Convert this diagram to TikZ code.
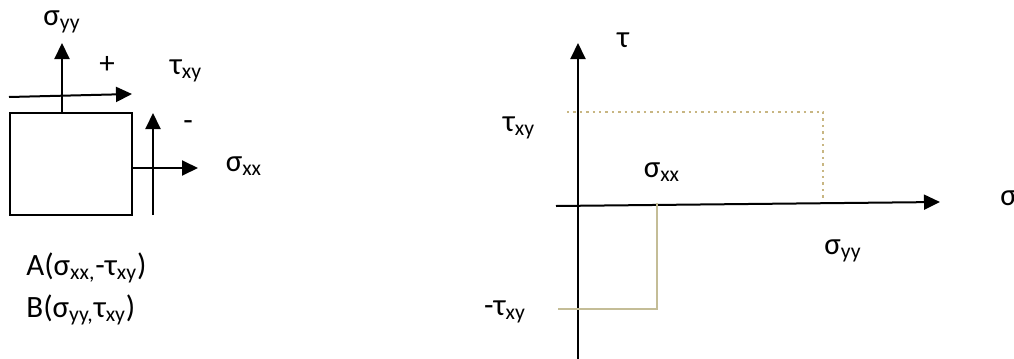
\documentclass[tikz,border=0pt]{standalone}
\usepackage{fontspec}
\setmainfont{Carlito}
\usetikzlibrary{arrows.meta,positioning}
\definecolor{stresstan}{RGB}{196,189,151}
\definecolor{stressgold}{RGB}{200,182,130}
\newcommand{\stresssub}[2]{#1\textsubscript{#2}}
\tikzset{
  stressarrow/.style={
    -{Triangle[length=8pt,width=7.5pt]},
    line width=1pt,
    draw=black
  },
  stressbox/.style={
    rectangle,
    draw=black,
    line width=1pt,
    minimum width=61pt,
    minimum height=51pt,
    inner sep=0pt
  },
  stresslabel/.style={
    inner sep=0pt,
    font=\fontsize{15.5}{18}\selectfont
  },
  mohrpath/.style={
    line width=1.2pt,
    draw=stresstan
  },
  mohrdotted/.style={
    line width=1.2pt,
    draw=stressgold,
    dotted
  }
}

\begin{document}
\begin{tikzpicture}[x=0.5pt, y=-0.5pt]
\useasboundingbox (0,0) rectangle (1014,359);

% stress element
\node[stressbox] (elem) at (71,164) {};
\coordinate (syytip) at (62,43);
\coordinate (tautopstart) at (9,97);
\coordinate (tautoptip) at (132,94);
\coordinate (taurightstart) at (153,215);
\coordinate (taurighttip) at (153,113);
\coordinate (sxxtip) at (198,168);

\draw[stressarrow] (elem.north -| syytip) -- (syytip);
\draw[stressarrow] (tautopstart) -- (tautoptip);
\draw[stressarrow] (taurightstart) -- (taurighttip);
\draw[stressarrow] (elem.east |- sxxtip) -- (sxxtip);

\node[stresslabel] (syylabel) at (62,22) {\stresssub{σ}{yy}};
\node[stresslabel] (pluslabel) at (107,65) {+};
\node[stresslabel] (tauxylabel) at (186,71) {\stresssub{τ}{xy}};
\node[stresslabel] (minuslabel) at (188,126) {-};
\node[stresslabel] (sxxlabel) at (244,166) {\stresssub{σ}{xx}};
\node[stresslabel, anchor=west] (pointA) at (26,268) {A(\stresssub{σ}{xx,}-\stresssub{τ}{xy})};
\node[stresslabel, anchor=west] (pointB) at (26,310) {B(\stresssub{σ}{yy,}\stresssub{τ}{xy})};

% Mohr plane
\coordinate (tauaxisstart) at (578,359);
\coordinate (tauaxistip) at (578,43);
\coordinate (sigaxisstart) at (556,206);
\coordinate (sigaxistip) at (940,202);
\draw[stressarrow] (tauaxisstart) -- (tauaxistip);
\draw[stressarrow] (sigaxisstart) -- (sigaxistip);

\coordinate (bstart) at (567,112);
\coordinate (bcorner) at (823,112);
\coordinate (bend) at (823,198);
\draw[mohrdotted] (bstart) -- (bcorner) -- (bend);

\coordinate (astart) at (558,309);
\coordinate (acorner) at (657,309);
\coordinate (aend) at (657,203);
\draw[mohrpath] (astart) -- (acorner) -- (aend);

\node[stresslabel] (taulabel) at (623,40) {τ};
\node[stresslabel] (taupos) at (519,128) {\stresssub{τ}{xy}};
\node[stresslabel] (sxxmohr) at (662,172) {\stresssub{σ}{xx}};
\node[stresslabel] (syymohr) at (843,251) {\stresssub{σ}{yy}};
\node[stresslabel] (tauneg) at (505,312) {-\stresssub{τ}{xy}};
\node[stresslabel, anchor=west] (siglabel) at (1000,198) {σ};
\end{tikzpicture}
\end{document}
